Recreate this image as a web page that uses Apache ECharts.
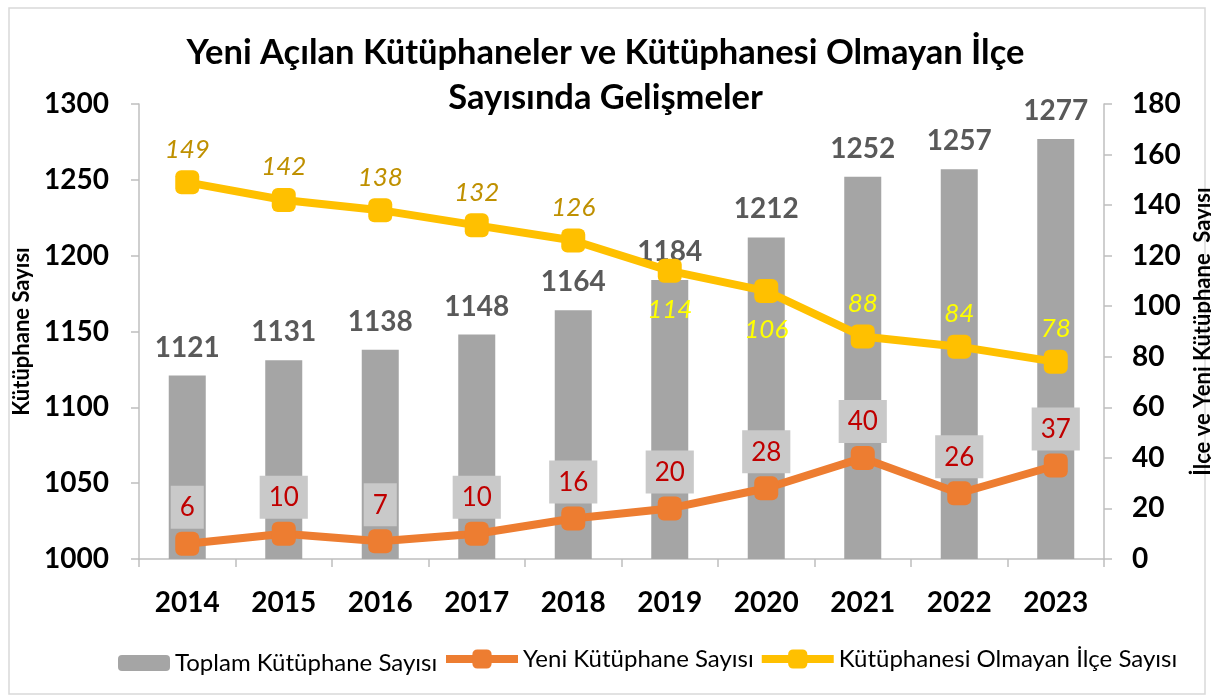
<!DOCTYPE html>
<html><head><meta charset="utf-8">
<script src="https://cdn.jsdelivr.net/npm/echarts@6/dist/echarts.min.js"></script>
<style>html,body{margin:0;padding:0;background:#fff}#c{width:1211px;height:700px}</style>
</head><body><div id="c"></div>
<script>
const years = ['2014','2015','2016','2017','2018','2019','2020','2021','2022','2023'];
const toplam = [1121,1131,1138,1148,1164,1184,1212,1252,1257,1277];
const yeni = [6,10,7,10,16,20,28,40,26,37];
const ilcesiz = [149,142,138,132,126,114,106,88,84,78];
const leftTicks = [1000,1300,50];
const rightTicks = [0,180,20];

const F = 'Lato, "Liberation Sans", sans-serif';
const chart = echarts.init(document.getElementById('c'), null, {renderer:'canvas'});

const ilceData = ilcesiz.map((v,i)=>({
  value:v,
  label:{
    color: i<5 ? '#bf9000' : '#ffff00',
    position: (i===5||i===6) ? 'bottom' : 'top',
    distance: (i===5||i===6) ? 14 : 8
  }
}));

const axisStyle = {lineStyle:{color:'#bfbfbf',width:1.5}};
const labelStyle = {fontFamily:F,fontSize:28,fontWeight:'bold',color:'#000'};

chart.setOption({
  animation:false,
  textStyle:{fontFamily:F},
  graphic:[{type:'rect',shape:{x:9,y:8,width:1196,height:686},style:{fill:'none',stroke:'#d9d9d9',lineWidth:1.5},silent:true}],
  title:{
    text:'Yeni Açılan Kütüphaneler ve Kütüphanesi Olmayan İlçe\nSayısında Gelişmeler',
    left:'center', top:25,
    textStyle:{fontFamily:F,fontSize:34.5,fontWeight:'bold',color:'#000',lineHeight:45}
  },
  legend:[{
    left:113, top:646, itemGap:4, itemWidth:52, itemHeight:16,
    textStyle:{fontFamily:F,fontSize:24,color:'#000'},
    data:['Toplam Kütüphane Sayısı']
  },{
    left:437, top:642, itemGap:4, itemWidth:72, itemHeight:24,
    lineStyle:{width:8},
    textStyle:{fontFamily:F,fontSize:24,color:'#000'},
    data:['Yeni Kütüphane Sayısı','Kütüphanesi Olmayan İlçe Sayısı']
  }],
  grid:{left:139,right:107,top:104,bottom:141,outerBoundsMode:'none',containLabel:false},
  xAxis:{
    type:'category', data:years,
    axisLine:axisStyle,
    axisTick:Object.assign({show:true,length:8},axisStyle),
    axisLabel:Object.assign({margin:30},labelStyle)
  },
  yAxis:[{
    type:'value', min:leftTicks[0], max:leftTicks[1], interval:leftTicks[2],
    name:'Kütüphane Sayısı', nameLocation:'middle', nameGap:95, nameRotate:90,
    nameTextStyle:{fontFamily:F,fontSize:22,fontWeight:'bold',color:'#000'},
    axisLine:Object.assign({show:true},axisStyle),
    axisTick:Object.assign({show:true,length:8},axisStyle),
    splitLine:{show:false},
    axisLabel:Object.assign({margin:30,formatter:v=>String(v)},labelStyle)
  },{
    type:'value', min:rightTicks[0], max:rightTicks[1], interval:rightTicks[2],
    position:'right',
    name:'İlçe ve Yeni Kütüphane  Sayısı', nameLocation:'middle', nameGap:79, nameRotate:90,
    nameTextStyle:{fontFamily:F,fontSize:22,fontWeight:'bold',color:'#000'},
    axisLine:Object.assign({show:true},axisStyle),
    axisTick:Object.assign({show:true,length:8},axisStyle),
    splitLine:{show:false},
    axisLabel:Object.assign({margin:28},labelStyle)
  }],
  series:[{
    name:'Toplam Kütüphane Sayısı', type:'bar', data:toplam, yAxisIndex:0,
    barWidth:37, itemStyle:{color:'#a5a5a5'},
    label:{show:true,position:'top',distance:14,fontFamily:F,fontSize:28,fontWeight:'bold',color:'#595959'}
  },{
    name:'Yeni Kütüphane Sayısı', type:'line', data:yeni, yAxisIndex:1,
    lineStyle:{color:'#ed7d31',width:8}, itemStyle:{color:'#ed7d31'},
    symbol:'roundRect', symbolSize:24,
    label:{show:true,position:'top',distance:3,fontFamily:F,fontSize:26,color:'#c00000',
      backgroundColor:'#c9c9c9',padding:[9,9,8,9]}
  },{
    name:'Kütüphanesi Olmayan İlçe Sayısı', type:'line', data:ilceData, yAxisIndex:1,
    lineStyle:{color:'#ffc000',width:8}, itemStyle:{color:'#ffc000'},
    symbol:'roundRect', symbolSize:24,
    label:{show:true,fontFamily:F,fontSize:26,fontStyle:'italic'}
  }]
});
</script></body></html>
